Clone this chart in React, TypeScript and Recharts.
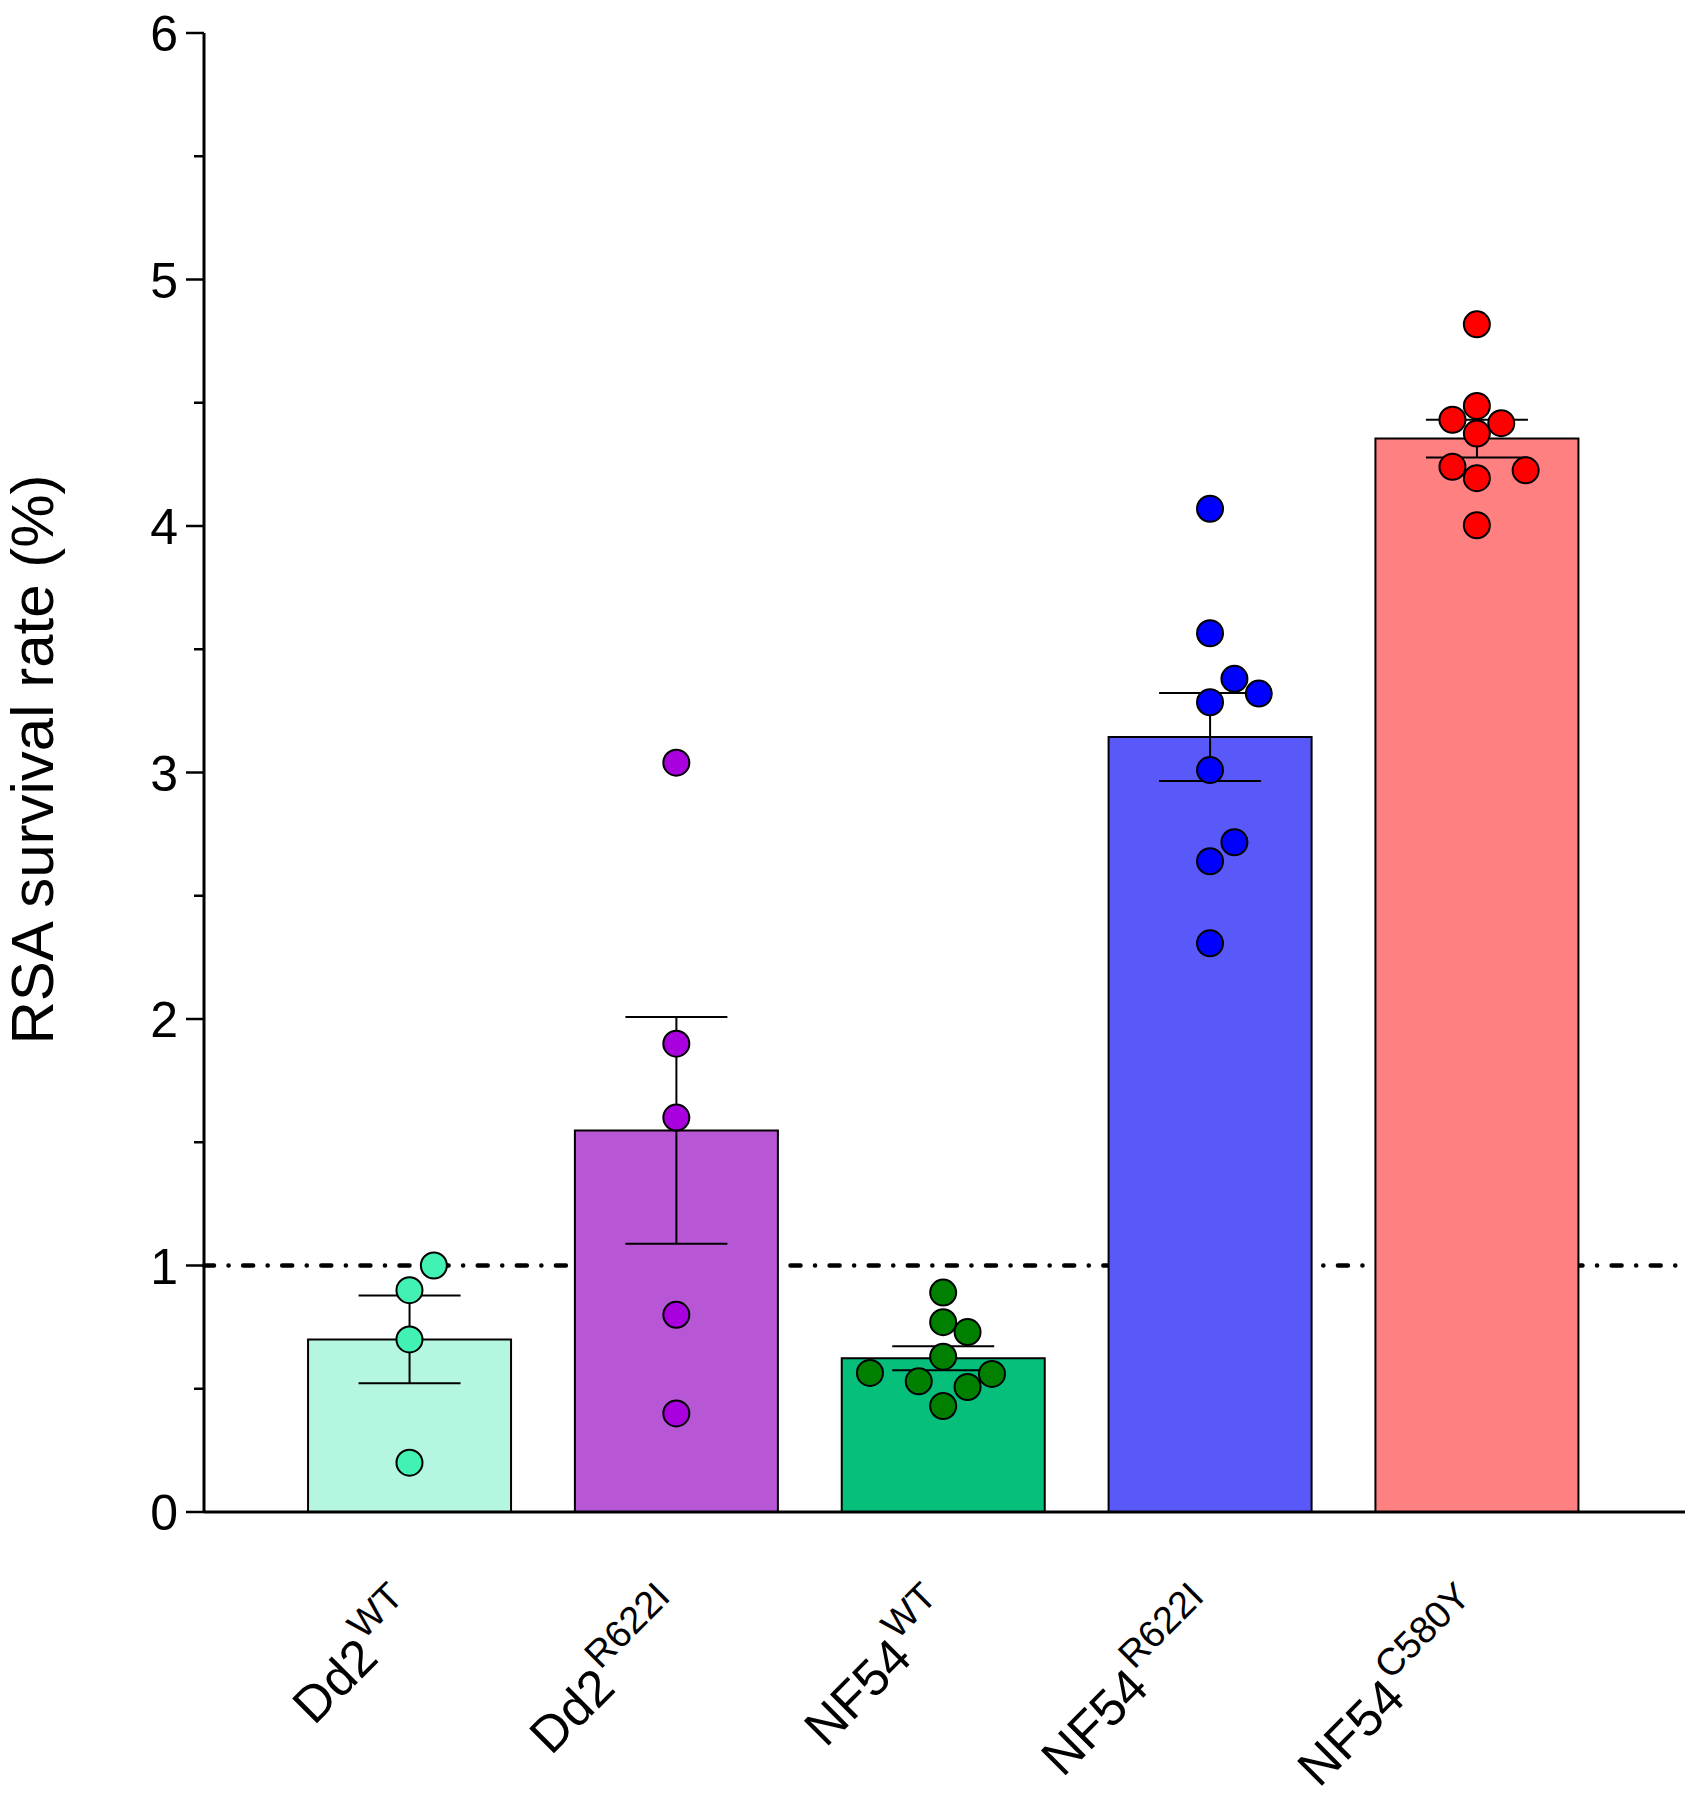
import React from "react";
import {
  ComposedChart,
  Bar,
  Cell,
  ErrorBar,
  Scatter,
  XAxis,
  YAxis,
  ReferenceLine,
} from "recharts";

// strain + allele (superscript) for each group
const strains = ["Dd2", "Dd2", "NF54", "NF54", "NF54"];
const alleles = ["WT", "R622I", "WT", "R622I", "C580Y"];

// individual RSA survival values (%)
const dd2Wt = [1.0, 0.9, 0.7, 0.2];
const dd2R622I = [3.04, 1.9, 1.6, 0.8, 0.4];
const nf54Wt = [0.89, 0.77, 0.73, 0.63, 0.53, 0.564, 0.56, 0.507, 0.43];
const nf54R622I = [4.07, 3.565, 3.38, 3.32, 3.285, 3.01, 2.717, 2.64, 2.307];
const nf54C580Y = [4.818, 4.487, 4.431, 4.417, 4.375, 4.24, 4.226, 4.194, 4.003];

const yTicks = [0, 0.5, 1, 1.5, 2, 2.5, 3, 3.5, 4, 4.5, 5, 5.5, 6];
const cutoff = 1;

const barFills = ["#B4F6DF", "#B857D6", "#06BF7A", "#5959F9", "#FF8080"];
const dotFills = ["#42F2B3", "#A900DE", "#007F00", "#0000FF", "#FF0000"];

const FONT = "'Liberation Sans', Arial, Helvetica, sans-serif";
const W = 1693;
const H = 1800;
const MARGIN = { top: 33, right: 8, left: 0, bottom: 0 };
const Y_AXIS_W = 204;
const X_AXIS_H = 288;
const X_DOMAIN: [number, number] = [-0.77, 4.78];
const PLOT_W = W - MARGIN.right - Y_AXIS_W;
const PLOT_H = H - MARGIN.top - X_AXIS_H;
const PX_X = PLOT_W / (X_DOMAIN[1] - X_DOMAIN[0]);
const PX_Y = PLOT_H / 6;
const DOT_R = 13;
const SLOT = 24.4; // px between jitter columns
const MIN_GAP = 26; // px, min centre distance before dots are pushed aside

const groups = [dd2Wt, dd2R622I, nf54Wt, nf54R622I, nf54C580Y];

const mean = (a: number[]) => a.reduce((s, v) => s + v, 0) / a.length;
const sem = (a: number[]) => {
  const m = mean(a);
  const v = a.reduce((s, x) => s + (x - m) ** 2, 0) / (a.length - 1);
  return Math.sqrt(v / a.length);
};

const barData = groups.map((g, i) => ({ x: i, mean: mean(g), sem: sem(g) }));

// simple beeswarm: push a dot sideways until it no longer overlaps
function swarm(values: number[]) {
  const order = values.map((_, i) => i).sort((a, b) => values[a] - values[b]);
  const placed: { dx: number; py: number }[] = [];
  const offs = new Array(values.length).fill(0);
  for (const i of order) {
    const py = values[i] * PX_Y;
    for (let k = 0; k < 30; k++) {
      const step = Math.ceil(k / 2) * (k % 2 ? 1 : -1);
      const dx = step * SLOT;
      if (placed.every((p) => Math.hypot(p.dx - dx, p.py - py) >= MIN_GAP)) {
        offs[i] = dx;
        placed.push({ dx, py });
        break;
      }
    }
  }
  return offs;
}

const dotData = groups.map((g, gi) => {
  const offs = swarm(g);
  return g.map((v, i) => ({ x: gi + offs[i] / PX_X, y: v }));
});

const YTick = (props: any) => {
  const { x, y, payload } = props;
  const major = Number.isInteger(payload.value);
  const len = major ? 18 : 10;
  return (
    <g>
      <line x1={x - len} x2={x} y1={y} y2={y} stroke="#000" strokeWidth={2.5} />
      {major && (
        <text
          x={x - 26}
          y={y}
          dy="0.36em"
          textAnchor="end"
          fontSize={50}
          fontFamily={FONT}
          fill="#000"
        >
          {payload.value}
        </text>
      )}
    </g>
  );
};

const XTick = (props: any) => {
  const { x, y, payload } = props;
  const i = payload.value;
  return (
    <g transform={`translate(${x + 14},${y + 105}) rotate(-45)`}>
      <text textAnchor="end" fontSize={51} fontFamily={FONT} fill="#000">
        {strains[i]}
        <tspan dx={2} dy={-26} fontSize={38}>
          {alleles[i]}
        </tspan>
      </text>
    </g>
  );
};

const YLabel = (props: any) => {
  const { viewBox } = props;
  const cx = viewBox.x + 53;
  const cy = viewBox.y + viewBox.height / 2 - 13;
  return (
    <text
      x={cx}
      y={cy}
      transform={`rotate(-90, ${cx}, ${cy})`}
      textAnchor="middle"
      fontSize={60}
      fontFamily={FONT}
      fill="#000"
    >
      RSA survival rate (%)
    </text>
  );
};

const Dot = (color: string) => (p: any) => (
  <circle cx={p.cx} cy={p.cy} r={DOT_R} fill={color} stroke="#000" strokeWidth={2} />
);

export default function App() {
  return (
    <div style={{ position: "absolute", left: 0, top: 0, background: "#fff" }}>
      <ComposedChart width={W} height={H} data={barData} margin={MARGIN}>
        <ReferenceLine
          y={cutoff}
          stroke="#000"
          strokeWidth={4.5}
          strokeDasharray="10 14.5 0.1 14.5"
          strokeLinecap="round"
          zIndex={100}
        />
        <XAxis
          dataKey="x"
          type="number"
          domain={X_DOMAIN}
          ticks={[0, 1, 2, 3, 4]}
          interval={0}
          allowDataOverflow
          height={X_AXIS_H}
          tickSize={0}
          tickMargin={0}
          tickLine={false}
          axisLine={{ stroke: "#000", strokeWidth: 3 }}
          tick={(p: any) => <XTick {...p} />}
        />
        <XAxis
          xAxisId="dots"
          dataKey="x"
          type="number"
          domain={X_DOMAIN}
          allowDataOverflow
          hide
        />
        <YAxis
          type="number"
          domain={[0, 6]}
          ticks={yTicks}
          interval={0}
          allowDataOverflow
          width={Y_AXIS_W}
          tickSize={0}
          tickMargin={0}
          tickLine={false}
          axisLine={{ stroke: "#000", strokeWidth: 3 }}
          tick={(p: any) => <YTick {...p} />}
          label={{ content: (p: any) => <YLabel {...p} /> }}
        />
        <Bar
          dataKey="mean"
          barSize={203}
          stroke="#000"
          strokeWidth={2}
          isAnimationActive={false}
        >
          {barData.map((_, i) => (
            <Cell key={i} fill={barFills[i]} />
          ))}
          <ErrorBar dataKey="sem" width={51} stroke="#000" strokeWidth={2} />
        </Bar>
        {dotData.map((d, i) => (
          <Scatter
            key={i}
            xAxisId="dots"
            data={d}
            dataKey="y"
            fill={dotFills[i]}
            shape={Dot(dotFills[i])}
            isAnimationActive={false}
          />
        ))}
      </ComposedChart>
    </div>
  );
}
